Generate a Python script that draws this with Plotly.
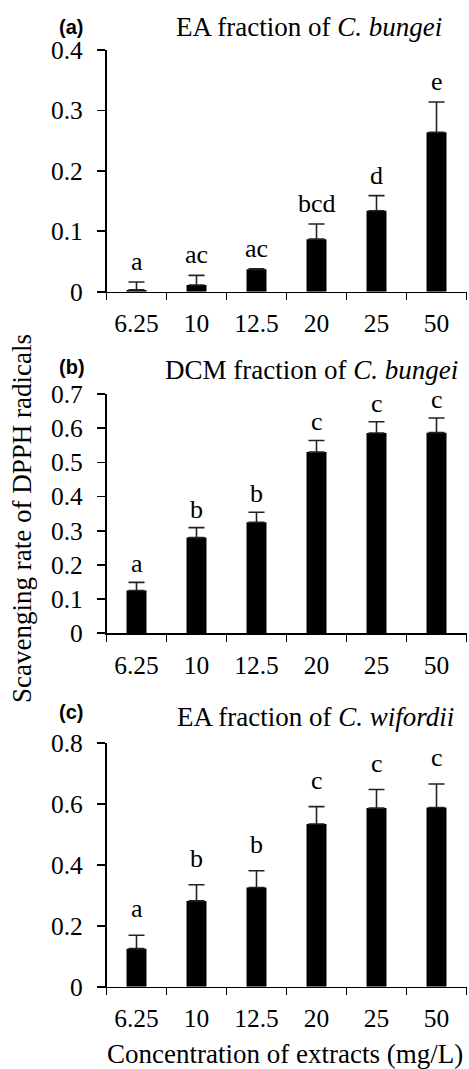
import plotly.graph_objects as go
from plotly.subplots import make_subplots

# ---------------- data ----------------
concentrations = ["6.25", "10", "12.5", "20", "25", "50"]

ea_bungei_mean = [0.003, 0.011, 0.037, 0.087, 0.134, 0.264]
ea_bungei_err = [0.013, 0.016, 0.001, 0.025, 0.025, 0.050]
ea_bungei_letters = ["a", "ac", "ac", "bcd", "d", "e"]

dcm_bungei_mean = [0.125, 0.280, 0.325, 0.530, 0.586, 0.587]
dcm_bungei_err = [0.024, 0.029, 0.029, 0.034, 0.033, 0.043]
dcm_bungei_letters = ["a", "b", "b", "c", "c", "c"]

ea_wifordii_mean = [0.125, 0.282, 0.326, 0.535, 0.587, 0.589]
ea_wifordii_err = [0.044, 0.053, 0.055, 0.057, 0.061, 0.077]
ea_wifordii_letters = ["a", "b", "b", "c", "c", "c"]

panel_tags = ["(a)", "(b)", "(c)"]
panel_titles = ["EA fraction of <i>C. bungei</i>",
                "DCM fraction of <i>C. bungei</i>",
                "EA fraction of <i>C. wifordii</i>"]
y_ranges = [[0, 0.4], [0, 0.7], [0, 0.8]]
y_dticks = [0.1, 0.1, 0.2]
y_title = "Scavenging rate of DPPH radicals"
x_title = "Concentration of extracts (mg/L)"

# ---------------- layout helpers ----------------
W, H = 469, 1069
SERIF = "Liberation Serif, Times New Roman, serif"
SANS = "Liberation Sans, Arial, sans-serif"


def fx(p):
    return p / W


def fy(p):
    return 1 - p / H


x_dom = [fx(106.5), fx(466.5)]
y_doms = [[fy(291.7), fy(50)], [fy(633.3), fy(394)], [fy(986.7), fy(743.3)]]
letter_shift = [4, 2, 10]
tag_pos = [(71, 27), (72, 367), (71, 712)]
title_pos = [(309, 27), (311, 370), (315, 717)]

series = [
    (ea_bungei_mean, ea_bungei_err, ea_bungei_letters),
    (dcm_bungei_mean, dcm_bungei_err, dcm_bungei_letters),
    (ea_wifordii_mean, ea_wifordii_err, ea_wifordii_letters),
]

fig = make_subplots(rows=3, cols=1)

annotations = []
for i, (mean, err, letters) in enumerate(series):
    r = i + 1
    fig.add_trace(
        go.Bar(
            x=concentrations,
            y=mean,
            marker=dict(color="black", line=dict(width=0)),
            error_y=dict(type="data", array=err, arrayminus=[0] * len(err),
                         symmetric=False, color="#222222", thickness=1.6, width=8),
            showlegend=False,
            hoverinfo="skip",
        ),
        row=r, col=1,
    )
    xa = "x" if r == 1 else f"x{r}"
    ya = "y" if r == 1 else f"y{r}"
    for k, (m, e, lab) in enumerate(zip(mean, err, letters)):
        annotations.append(dict(
            x=k, y=m + e, xref=xa, yref=ya, text=lab, showarrow=False,
            xanchor="center", yanchor="bottom", yshift=letter_shift[i],
            font=dict(family=SERIF, size=26, color="black")))
    tx, ty = tag_pos[i]
    annotations.append(dict(
        x=fx(tx), y=fy(ty), xref="paper", yref="paper", text="<b>" + panel_tags[i] + "</b>",
        showarrow=False, xanchor="center", yanchor="middle",
        font=dict(family=SANS, size=20, color="black")))
    px_, py_ = title_pos[i]
    annotations.append(dict(
        x=fx(px_), y=fy(py_), xref="paper", yref="paper", text=panel_titles[i],
        showarrow=False, xanchor="center", yanchor="middle",
        font=dict(family=SERIF, size=27, color="black")))

    fig.update_xaxes(
        row=r, col=1, domain=x_dom, type="category", range=[-0.5, 5.5],
        automargin=False,
        showline=True, linecolor="black", linewidth=1.6,
        ticks="outside", tickson="boundaries", ticklen=7, tickwidth=1.6, tickcolor="black",
        showgrid=False, zeroline=False, ticklabelstandoff=8,
        tickfont=dict(family=SERIF, size=25.5, color="black"),
    )
    fig.update_yaxes(
        row=r, col=1, domain=y_doms[i], range=y_ranges[i], dtick=y_dticks[i],
        automargin=False,
        showline=True, linecolor="black", linewidth=1.6,
        ticks="outside", ticklen=8, tickwidth=1.6, tickcolor="black",
        showgrid=False, zeroline=False, ticklabelstandoff=9,
        tickfont=dict(family=SERIF, size=25.5, color="black"),
    )

annotations.append(dict(
    x=fx(22), y=fy(519), xref="paper", yref="paper", text=y_title, textangle=-90,
    showarrow=False, xanchor="center", yanchor="middle",
    font=dict(family=SERIF, size=27, color="black")))
annotations.append(dict(
    x=fx(285), y=fy(1054), xref="paper", yref="paper", text=x_title,
    showarrow=False, xanchor="center", yanchor="middle",
    font=dict(family=SERIF, size=27, color="black")))

fig.update_layout(
    template="none",
    width=W, height=H,
    margin=dict(l=0, r=0, t=0, b=0, pad=0),
    paper_bgcolor="white", plot_bgcolor="white",
    bargap=0.667,
    annotations=annotations,
    showlegend=False,
    hovermode=False,
)

fig.write_html(
    "out.html",
    config={"displayModeBar": False, "staticPlot": True},
    post_script="document.body.style.margin='0px';document.body.style.overflow='hidden';",
)
